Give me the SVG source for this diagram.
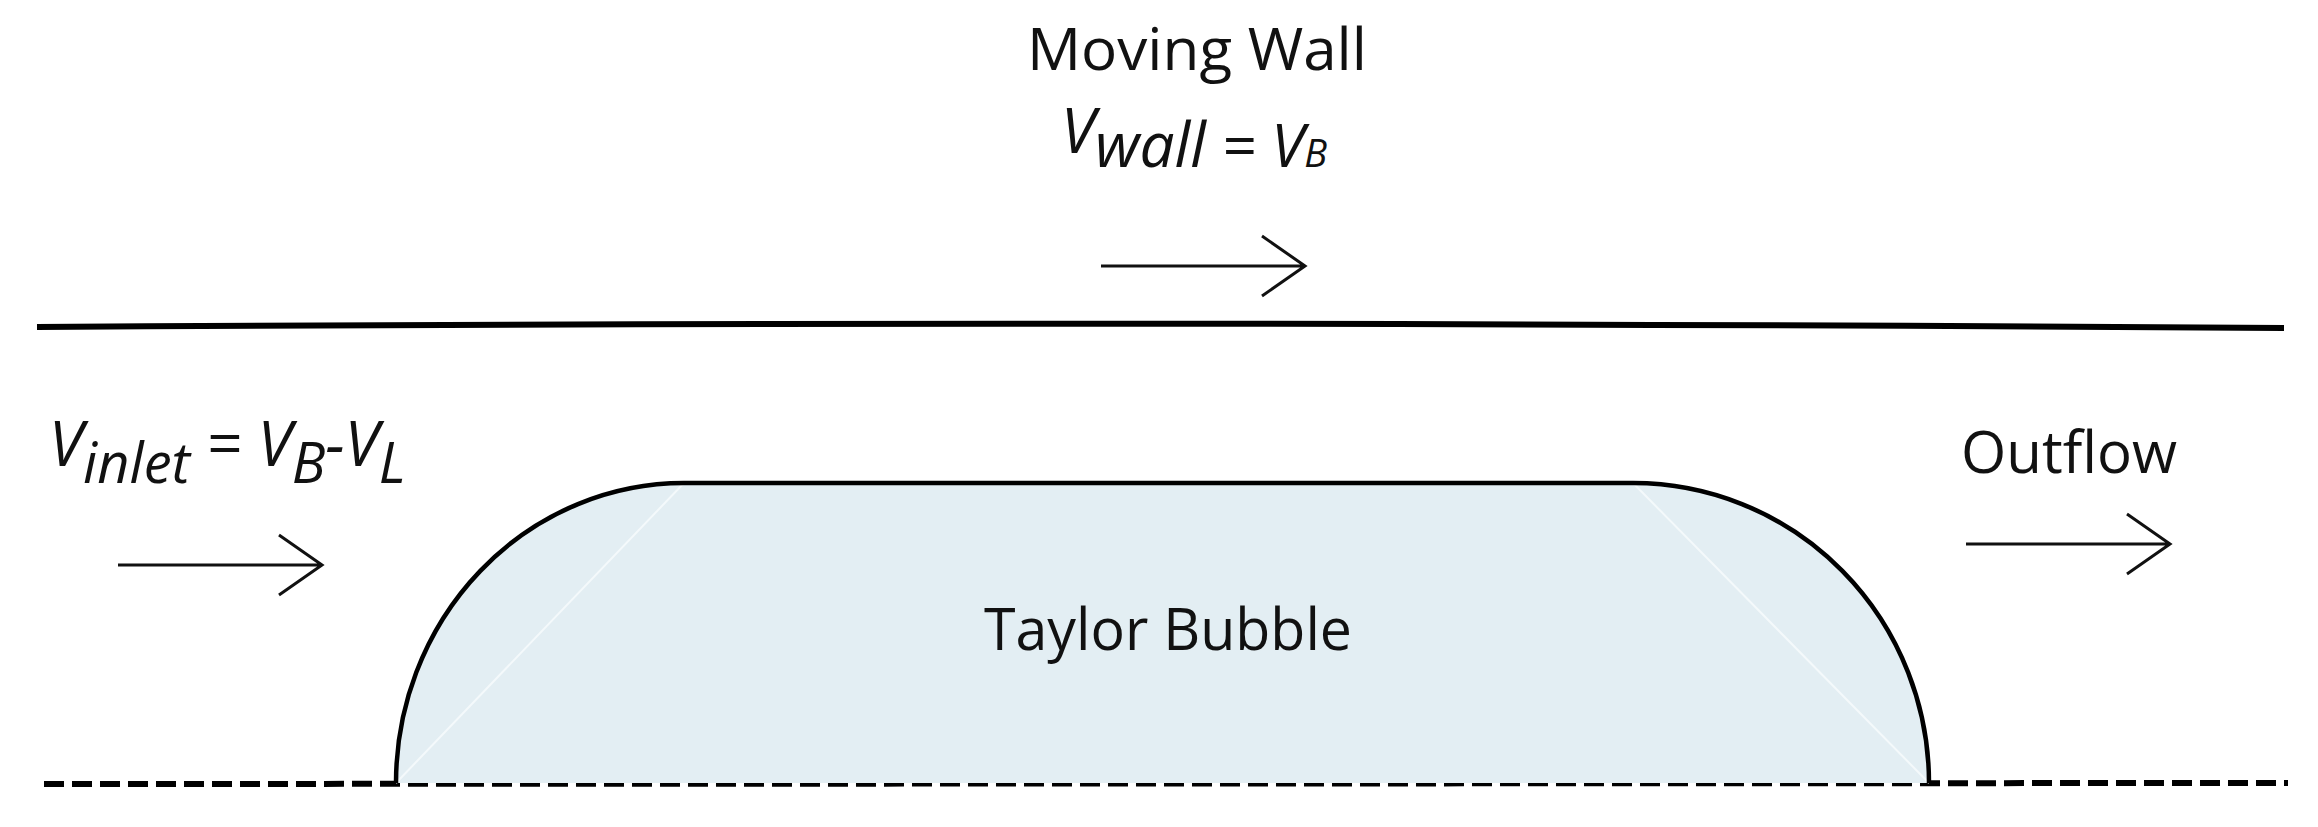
<svg xmlns="http://www.w3.org/2000/svg" width="2318" height="827" viewBox="0 0 2318 827">
<style>
text{font-family:"Open Sans","Liberation Sans",sans-serif;fill:#111}
.it{font-style:italic}
.ar{stroke:#111;stroke-width:3;fill:none}
</style>
<rect width="2318" height="827" fill="#fff"/>
<g id="walls">
<path d="M37 327 Q1100 320 2284 328" stroke="#000" stroke-width="6" fill="none"/>
<line x1="44" y1="784" x2="2288" y2="783" stroke="#000" stroke-width="6" stroke-dasharray="20,8"/>
</g>
<g id="bubble">
<path d="M396 783 A288 300 0 0 1 684 483 L1633 483 A296 300 0 0 1 1929 783 Z" fill="#e3eef3"/>
<path d="M396 783 L684 483 M1633 483 L1929 783" stroke="#f4f9fb" stroke-width="2"/>
<path d="M396 783 A288 300 0 0 1 684 483 L1633 483 A296 300 0 0 1 1929 783" fill="none" stroke="#000" stroke-width="4.5"/>
<text x="1168" y="650" font-size="58" text-anchor="middle" textLength="368" lengthAdjust="spacingAndGlyphs">Taylor Bubble</text>
</g>
<g id="labels">
<text x="1197" y="70" font-size="58" text-anchor="middle" textLength="340" lengthAdjust="spacingAndGlyphs">Moving Wall</text>
<text class="it" font-size="62" x="1061" y="153">V<tspan font-size="62" dy="14">wall</tspan><tspan font-size="60"> = V</tspan><tspan font-size="38">B</tspan></text>
<text class="it" font-size="62" x="49" y="466">V<tspan font-size="56" dy="17">inlet</tspan><tspan dy="-17"> = V</tspan><tspan font-size="56" dy="17">B</tspan><tspan dy="-17">-V</tspan><tspan font-size="56" dy="17">L</tspan></text>
<text x="1961" y="473" font-size="58" textLength="216" lengthAdjust="spacingAndGlyphs">Outflow</text>
</g>
<g id="connectors">
<path class="ar" d="M1101 266 H1305 M1262 236 L1305 266 L1262 296"/>
<path class="ar" d="M118 565 H322 M279 535 L322 565 L279 595"/>
<path class="ar" d="M1966 544 H2170 M2127 514 L2170 544 L2127 574"/>
</g>
</svg>
